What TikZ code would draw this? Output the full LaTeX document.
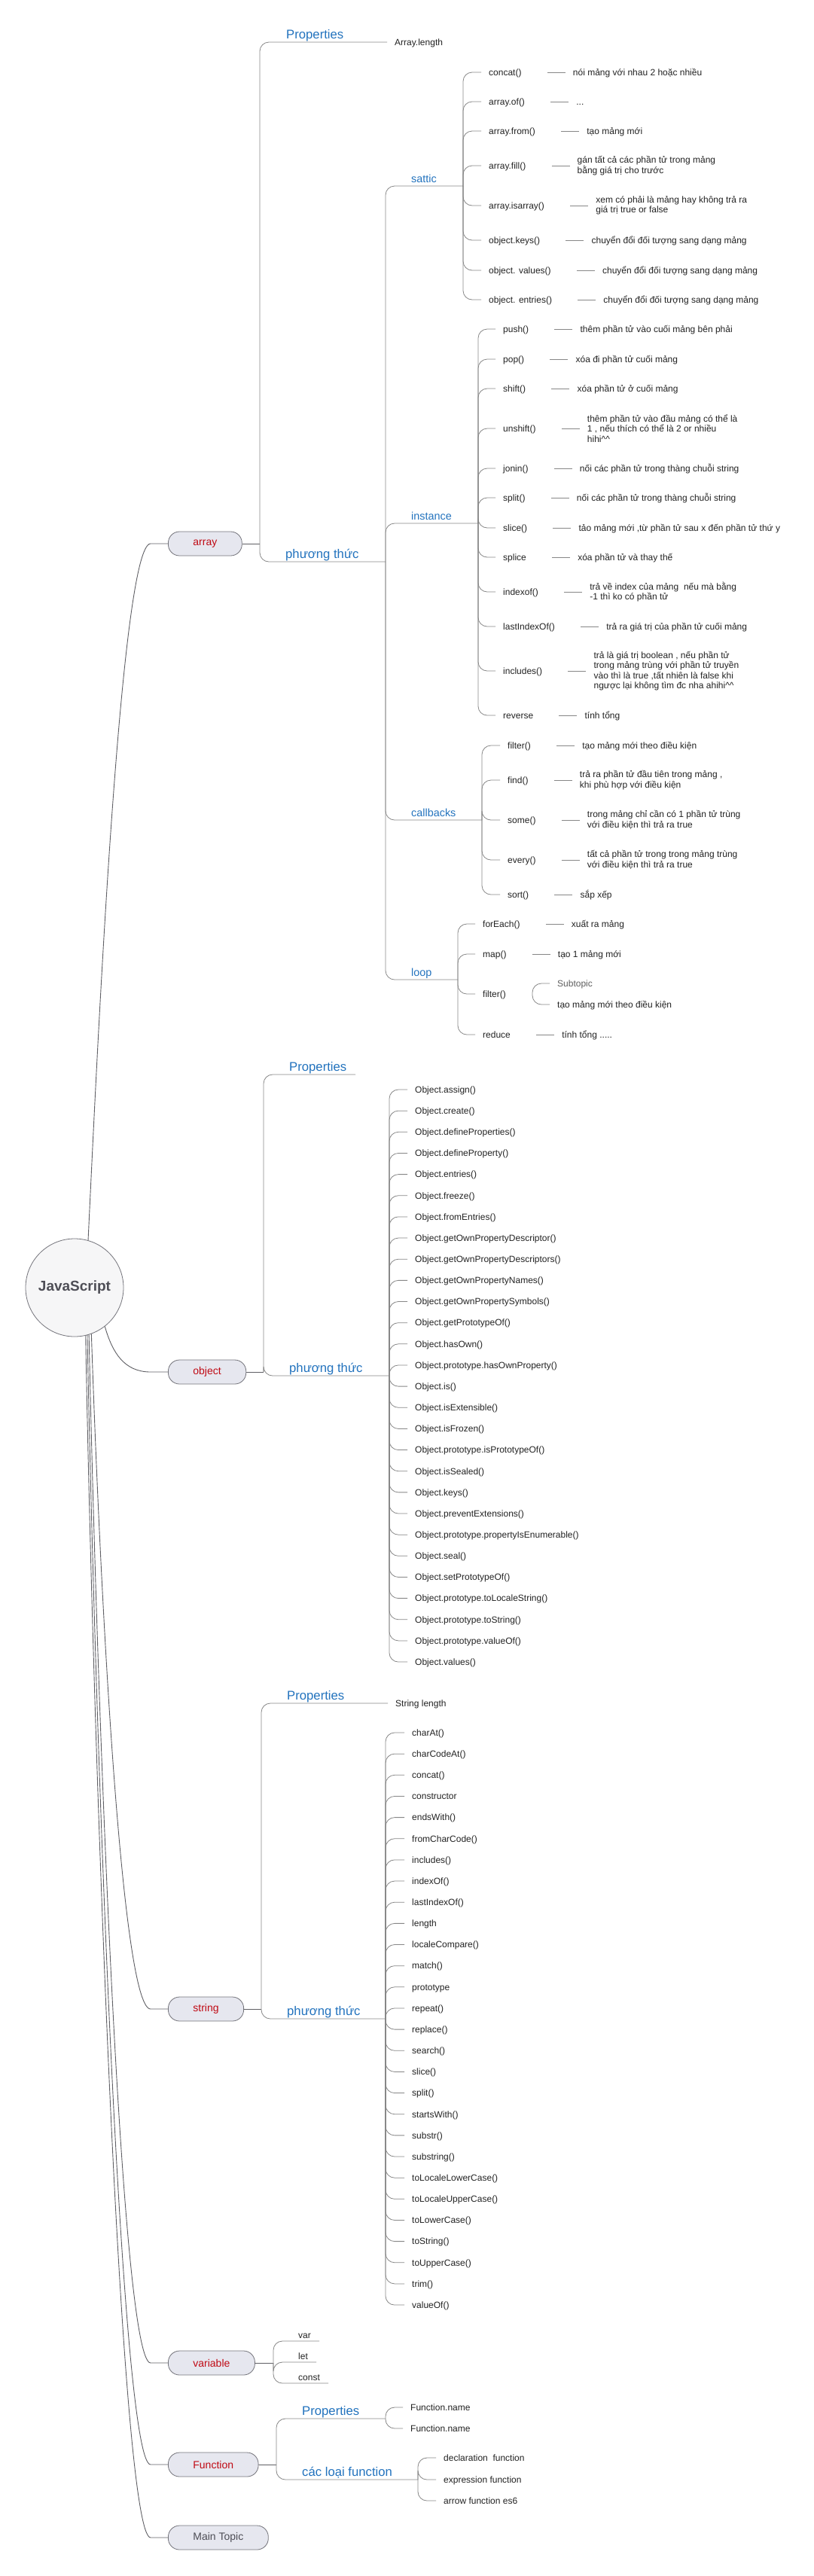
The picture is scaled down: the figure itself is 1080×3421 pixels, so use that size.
\documentclass[tikz,border=0pt]{standalone}
\usepackage{fontspec}
\setmainfont{Liberation Sans}
\usetikzlibrary{positioning}

\definecolor{linegray}{RGB}{135,135,135}
\definecolor{rootline}{RGB}{95,95,100}
\definecolor{pillfill}{RGB}{230,231,239}
\definecolor{pillline}{RGB}{115,115,122}
\definecolor{rootfill}{RGB}{246,246,247}
\definecolor{rootgray}{RGB}{78,78,86}
\definecolor{topicred}{RGB}{192,10,20}
\definecolor{branchblue}{RGB}{35,115,190}
\definecolor{itemblack}{RGB}{35,35,35}
\definecolor{subgray}{RGB}{95,95,95}

\begin{document}
\begin{tikzpicture}[x=1pt,y=-1pt,
  conn/.style={draw=linegray,line width=0.8pt},
  under/.style={conn,rounded corners=12pt},
  elbow/.style={conn,rounded corners=12pt,shorten >=10pt},
  limb/.style={draw=rootline,line width=0.9pt},
  root/.style={circle,draw=pillline,line width=0.8pt,fill=rootfill,minimum size=130pt,
    text=rootgray,font=\fontsize{19}{22}\selectfont\bfseries},
  topic/.style={draw=pillline,line width=0.8pt,fill=pillfill,rounded corners=15pt,
    minimum height=32pt,inner xsep=33pt,anchor=west,text=topicred,font=\fontsize{14}{16}\selectfont},
  branch/.style={anchor=base west,inner sep=0pt,text=branchblue,font=\fontsize{16.7}{19}\selectfont},
  sub/.style={branch,font=\fontsize{14.4}{17}\selectfont},
  item/.style={anchor=west,inner sep=0pt,text=itemblack,font=\fontsize{12}{13.5}\selectfont,
    text height=8.6pt,text depth=0pt},
  leaf/.style={item,anchor=base west},
  longnote/.style={anchor=west,inner sep=0pt,text=itemblack,font=\fontsize{12}{13.5}\selectfont,align=left}]
  \fill[white] (0,0) rectangle (1080,3421);
  \useasboundingbox (0,0) rectangle (1080,3421);

  % centre and main topics
  \node[root] (js) at (99,1710) {JavaScript};
  \node[topic] (arr) at (223,722)  {array};
  \node[topic] (obj) at (223,1822) {object};
  \node[topic] (str) at (223,2668) {string};
  \node[topic] (var) at (223,3138) {variable};
  \node[topic] (fun) at (223,3273) {Function};
  \node[topic,text=rootgray] (mt) at (223,3370) {Main Topic};
  \draw[limb] (js.74) .. controls +(12,-250) and +(-40,0) .. ([xshift=-23pt]arr.west) -- (arr.west);
  \draw[limb] (js.-52) .. controls +(10,35) and +(-35,0) .. ([xshift=-23pt]obj.west) -- (obj.west);
  \draw[limb] (js.-70) .. controls +(10,300) and +(-40,0) .. ([xshift=-23pt]str.west) -- (str.west);
  \draw[limb] (js.-73) .. controls +(10,460) and +(-40,0) .. ([xshift=-23pt]var.west) -- (var.west);
  \draw[limb] (js.-75) .. controls +(10,510) and +(-40,0) .. ([xshift=-23pt]fun.west) -- (fun.west);
  \draw[limb] (js.-77) .. controls +(10,540) and +(-40,0) .. ([xshift=-23pt]mt.west) -- (mt.west);

  % array
  \coordinate (arrJ) at (345,722);
  \coordinate (arrM) at (512,746);
  \draw[limb] (arr.east) -- (arrJ);
  \node[branch] (arrP) at (380,51) {Properties};
  \node[item] (arrlen) at (524,56) {Array.length};
  \draw[elbow] (arrJ) |- (arrlen.west);
  \node[branch] (arrPT) at (379,741) {phương thức};
  \draw[under] (arrJ) |- (arrM);

  % array -> sattic
  \coordinate (satJ) at (615,247);
  \node[sub] (sat) at (546,242) {sattic};
  \draw[under] (arrM) |- (satJ);
  \node[item] (concat)   at (649,96)  {concat()};
  \node[item] (arrof)    at (649,135) {array.of()};
  \node[item] (arrfrom)  at (649,174) {array.from()};
  \node[item] (arrfill)  at (649,220) {array.fill()};
  \node[item] (arrisarr) at (649,273) {array.isarray()};
  \node[item] (objkeys)  at (649,319) {object.keys()};
  \node[item] (objvals)  at (649,359) {object. values()};
  \node[item] (objents)  at (649,398) {object. entries()};
  \foreach \n in {concat,arrof,arrfrom,arrfill,arrisarr,objkeys,objvals,objents}
    \draw[elbow] (satJ) |- (\n.west);
  \node[item,right=68pt of concat] (concat-d) {nói mảng với nhau 2 hoặc nhiều};
  \node[item,right=68pt of arrof] (arrof-d) {...};
  \node[item,right=68pt of arrfrom] (arrfrom-d) {tạo mảng mới};
  \node[longnote,right=68pt of arrfill] (arrfill-d) {gán tất cả các phần tử trong mảng\\bằng giá trị cho trước};
  \node[longnote,right=68pt of arrisarr] (arrisarr-d) {xem có phải là mảng hay không trả ra\\giá trị true or false};
  \node[item,right=68pt of objkeys] (objkeys-d) {chuyển đổi đối tượng sang dạng mảng};
  \node[item,right=68pt of objvals] (objvals-d) {chuyển đổi đối tượng sang dạng mảng};
  \node[item,right=68pt of objents] (objents-d) {chuyển đổi đối tượng sang dạng mảng};

  % array -> instance
  \coordinate (insJ) at (635,695);
  \node[sub] (ins) at (546,690) {instance};
  \draw[under] (arrM) |- (insJ);
  \node[item] (push)    at (668,437) {push()};
  \node[item] (pop)     at (668,477) {pop()};
  \node[item] (shift)   at (668,516) {shift()};
  \node[item] (unshift) at (668,569) {unshift()};
  \node[item] (jonin)   at (668,622) {jonin()};
  \node[item] (split)   at (668,661) {split()};
  \node[item] (slice)   at (668,701) {slice()};
  \node[item] (splice)  at (668,740) {splice};
  \node[item] (indexof) at (668,786) {indexof()};
  \node[item] (lastidx) at (668,832) {lastIndexOf()};
  \node[item] (incl)    at (668,891) {includes()};
  \node[item] (reverse) at (668,950) {reverse};
  \foreach \n in {push,pop,shift,unshift,jonin,split,slice,splice,indexof,lastidx,incl,reverse}
    \draw[elbow] (insJ) |- (\n.west);
  \node[item,right=68pt of push] (push-d) {thêm phần tử vào cuối mảng bên phải};
  \node[item,right=68pt of pop] (pop-d) {xóa đi phần tử cuối mảng};
  \node[item,right=68pt of shift] (shift-d) {xóa phần tử ở cuối mảng};
  \node[longnote,right=68pt of unshift] (unshift-d) {thêm phần tử vào đầu mảng có thể là\\1 , nếu thích có thể là 2 or nhiều\\hihi\textasciicircum\textasciicircum};
  \node[item,right=68pt of jonin] (jonin-d) {nối các phần tử trong thàng chuỗi string};
  \node[item,right=68pt of split] (split-d) {nối các phần tử trong thàng chuỗi string};
  \node[item,right=68pt of slice] (slice-d) {tảo mảng mới ,từ phần tử sau x đến phần tử thứ y};
  \node[item,right=68pt of splice] (splice-d) {xóa phần tử và thay thế};
  \node[longnote,right=68pt of indexof] (indexof-d) {trả về index của mảng~ nếu mà bằng\\-1 thì ko có phần tử};
  \node[item,right=68pt of lastidx] (lastidx-d) {trả ra giá trị của phần tử cuối mảng};
  \node[longnote,right=68pt of incl] (incl-d) {trả là giá trị boolean , nếu phần tử\\trong mảng trùng với phần tử truyền\\vào thì là true ,tất nhiên là false khi\\ngược lại không tìm đc nha ahihi\textasciicircum\textasciicircum};
  \node[item,right=68pt of reverse] (reverse-d) {tính tổng};

  % array -> callbacks
  \coordinate (cbJ) at (640,1089);
  \node[sub] (cb) at (546,1084) {callbacks};
  \draw[under] (arrM) |- (cbJ);
  \node[item] (cfilter) at (674,990)  {filter()};
  \node[item] (cfind)   at (674,1036) {find()};
  \node[item] (csome)   at (674,1089) {some()};
  \node[item] (cevery)  at (674,1142) {every()};
  \node[item] (csort)   at (674,1188) {sort()};
  \foreach \n in {cfilter,cfind,csome,cevery,csort}
    \draw[elbow] (cbJ) |- (\n.west);
  \node[item,right=68pt of cfilter] (cfilter-d) {tạo mảng mới theo điều kiện};
  \node[longnote,right=68pt of cfind] (cfind-d) {trả ra phần tử đầu tiên trong mảng ,\\khi phù hợp với điều kiện};
  \node[longnote,right=68pt of csome] (csome-d) {trong mảng chỉ cần có 1 phần tử trùng\\với điều kiện thì trả ra true};
  \node[longnote,right=68pt of cevery] (cevery-d) {tất cả phần tử trong trong mảng trùng\\với điều kiện thì trả ra true};
  \node[item,right=68pt of csort] (csort-d) {sắp xếp};

  % array -> loop
  \coordinate (lpJ) at (608,1301);
  \node[sub] (lp) at (546,1296) {loop};
  \draw[under] (arrM) |- (lpJ);
  \node[item] (lforeach) at (641,1227) {forEach()};
  \node[item] (lmap)     at (641,1267) {map()};
  \node[item] (lfilter)  at (641,1320) {filter()};
  \node[item] (lreduce)  at (641,1374) {reduce};
  \foreach \n in {lforeach,lmap,lfilter,lreduce}
    \draw[elbow] (lpJ) |- (\n.west);
  \node[item,right=68pt of lforeach] (lforeach-d) {xuất ra mảng};
  \node[item,right=68pt of lmap] (lmap-d) {tạo 1 mảng mới};
  \node[item,right=68pt of lreduce] (lreduce-d) {tính tổng .....};
  \coordinate (lfJ) at (707,1320);
  \node[item,text=subgray] (lsub1) at (740,1306) {Subtopic};
  \node[item] (lsub2) at (740,1334) {tạo mảng mới theo điều kiện};
  \draw[elbow] (lfJ) |- (lsub1.west);
  \draw[elbow] (lfJ) |- (lsub2.west);
  \foreach \n in {concat,arrof,arrfrom,arrfill,arrisarr,objkeys,objvals,objents,
    push,pop,shift,unshift,jonin,split,slice,splice,indexof,lastidx,incl,reverse,
    cfilter,cfind,csome,cevery,csort,lforeach,lmap,lreduce}
    \draw[conn] ([xshift=34pt]\n.east) -- ([xshift=-10pt]\n-d.west);

  % object
  \coordinate (objJ) at (350,1822);
  \coordinate (objM) at (517,1827);
  \coordinate (objPE) at (472,1427);
  \draw[limb] (obj.east) -- (objJ);
  \node[branch] (objP) at (384,1422) {Properties};
  \draw[under] (objJ) |- (objPE);
  \node[branch] (objPT) at (384,1822) {phương thức};
  \draw[under] (objJ) |- (objM);
  \foreach \t [count=\i] in {Object.assign(),Object.create(),Object.defineProperties(),
    Object.defineProperty(),Object.entries(),Object.freeze(),Object.fromEntries(),
    Object.getOwnPropertyDescriptor(),Object.getOwnPropertyDescriptors(),
    Object.getOwnPropertyNames(),Object.getOwnPropertySymbols(),Object.getPrototypeOf(),
    Object.hasOwn(),Object.prototype.hasOwnProperty(),Object.is(),Object.isExtensible(),
    Object.isFrozen(),Object.prototype.isPrototypeOf(),Object.isSealed(),Object.keys(),
    Object.preventExtensions(),Object.prototype.propertyIsEnumerable(),Object.seal(),
    Object.setPrototypeOf(),Object.prototype.toLocaleString(),Object.prototype.toString(),
    Object.prototype.valueOf(),Object.values()}
  {
    \node[item] (o\i) at (551,1418.85+28.15*\i) {\t};
    \draw[elbow] (objM) |- (o\i.west);
  }

  % string
  \coordinate (strJ) at (347,2668);
  \coordinate (strM) at (512,2681);
  \draw[limb] (str.east) -- (strJ);
  \node[branch] (strP) at (381,2257) {Properties};
  \node[item] (strlen) at (525,2262) {String length};
  \draw[elbow] (strJ) |- (strlen.west);
  \node[branch] (strPT) at (381,2676) {phương thức};
  \draw[under] (strJ) |- (strM);
  \foreach \t [count=\i] in {charAt(),charCodeAt(),concat(),constructor,endsWith(),
    fromCharCode(),includes(),indexOf(),lastIndexOf(),length,localeCompare(),match(),
    prototype,repeat(),replace(),search(),slice(),split(),startsWith(),substr(),
    substring(),toLocaleLowerCase(),toLocaleUpperCase(),toLowerCase(),toString(),
    toUpperCase(),trim(),valueOf()}
  {
    \node[item] (s\i) at (547,2272.85+28.15*\i) {\t};
    \draw[elbow] (strM) |- (s\i.west);
  }

  % variable
  \coordinate (varJ) at (363,3138);
  \draw[limb] (var.east) -- (varJ);
  \node[leaf] (vvar)   at (396,3105) {var};
  \node[leaf] (vlet)   at (396,3133) {let};
  \node[leaf] (vconst) at (396,3161) {const};
  \foreach \n in {vvar,vlet,vconst}
    \draw[under] (varJ) |- ([xshift=11pt,yshift=-4pt]\n.base east);

  % Function
  \coordinate (funJ) at (367,3273);
  \coordinate (fpJ) at (512,3212);
  \coordinate (ftJ) at (555,3293);
  \draw[limb] (fun.east) -- (funJ);
  \node[branch] (funP) at (401,3207) {Properties};
  \draw[under] (funJ) |- (fpJ);
  \node[item] (fname1) at (545,3197) {Function.name};
  \node[item] (fname2) at (545,3225) {Function.name};
  \draw[elbow] (fpJ) |- (fname1.west);
  \draw[elbow] (fpJ) |- (fname2.west);
  \node[branch] (funT) at (401,3288) {các loại function};
  \draw[under] (funJ) |- (ftJ);
  \node[item] (fdecl)  at (589,3264) {declaration\ \ function};
  \node[item] (fexpr)  at (589,3293) {expression function};
  \node[item] (farrow) at (589,3321) {arrow function es6};
  \foreach \n in {fdecl,fexpr,farrow}
    \draw[elbow] (ftJ) |- (\n.west);
\end{tikzpicture}
\end{document}
